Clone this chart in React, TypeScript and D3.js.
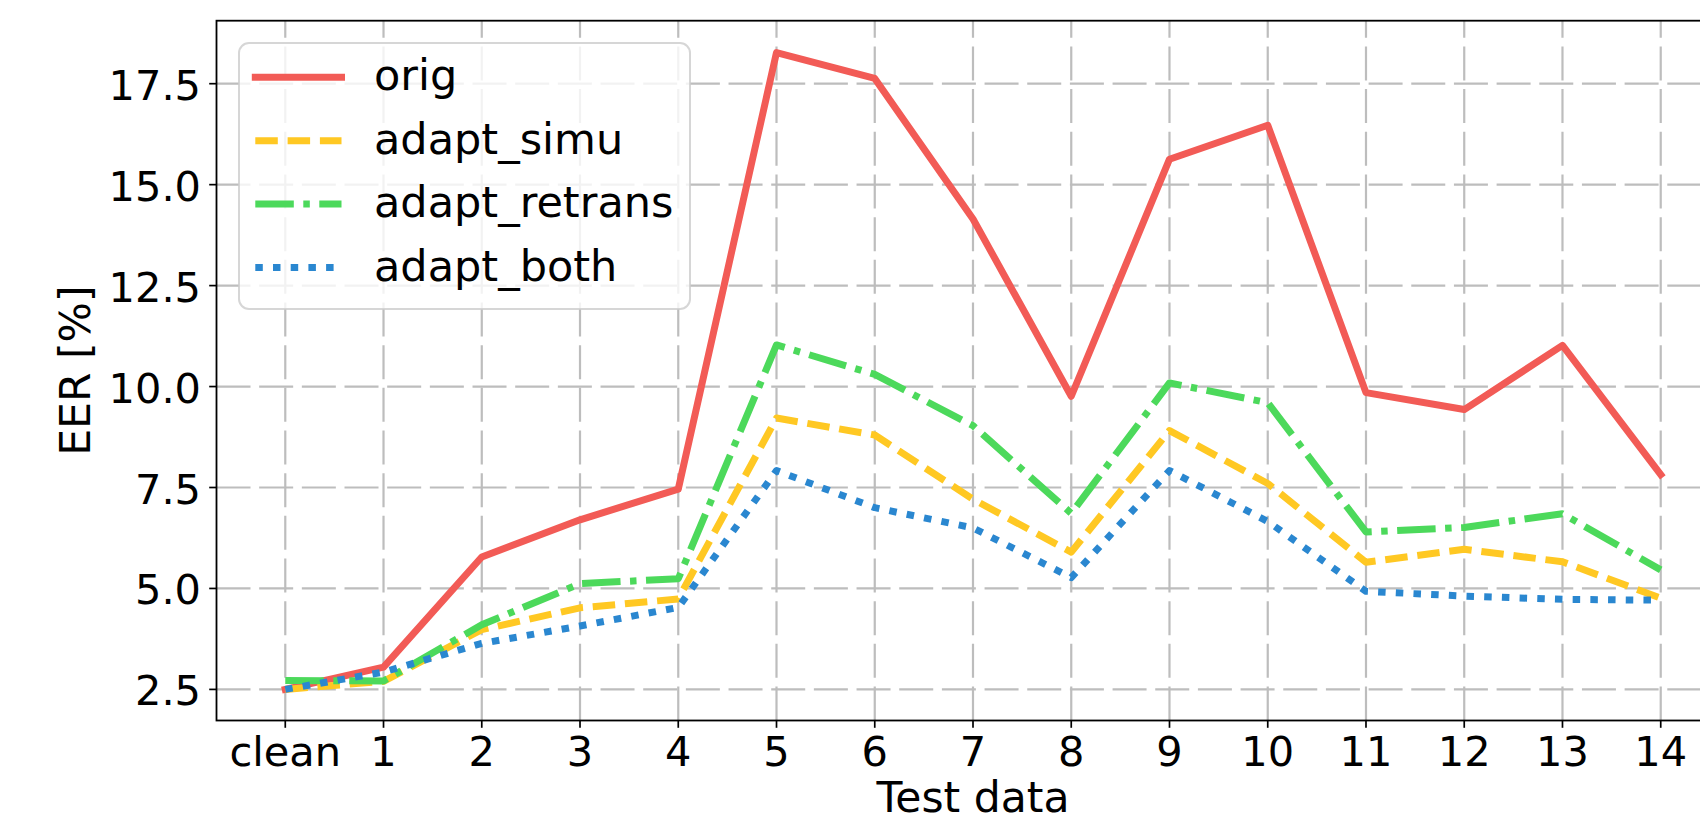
import React from "react";
import * as d3 from "d3";

// ---- data ----
const categories = ["clean", "1", "2", "3", "4", "5", "6", "7", "8", "9", "10", "11", "12", "13", "14"];
const orig = [2.5, 3.05, 5.78, 6.7, 7.46, 18.27, 17.63, 14.15, 9.76, 15.63, 16.47, 9.85, 9.43, 11.02, 7.82];
const adaptSimu = [2.5, 2.7, 3.98, 4.52, 4.74, 9.22, 8.8, 7.21, 5.9, 8.91, 7.6, 5.65, 5.97, 5.66, 4.76];
const adaptRetrans = [2.72, 2.71, 4.1, 5.12, 5.24, 11.03, 10.3, 9.03, 6.86, 10.09, 9.6, 6.4, 6.51, 6.85, 5.46];
const adaptBoth = [2.5, 2.93, 3.64, 4.07, 4.53, 7.92, 7.0, 6.5, 5.27, 7.92, 6.66, 4.93, 4.81, 4.73, 4.71];
const seriesNames = ["orig", "adapt_simu", "adapt_retrans", "adapt_both"];
const yTicks = [2.5, 5.0, 7.5, 10.0, 12.5, 15.0, 17.5];
const xLabel = "Test data";
const yLabel = "EER [%]";

// ---- styles ----
const W = 1700;
const H = 818;
const FONT = "'DejaVu Sans', 'Liberation Sans', sans-serif";
const FS = 41.5;
const FS_LABEL = 42.5;
const FS_LEGEND = 43;
const LW = 7;
const colors = ["#F25B56", "#FFC823", "#4CD95B", "#2A87D0"];
const dashes = [null, "22.5,9.8", "38.5,9.5,6.5,9.5", "7.5,10.2"];

export default function App() {
  const left = 216.5;
  const right = 1729.5;
  const top = 20.7;
  const bottom = 720.5;

  const x = d3.scaleLinear().domain([-0.7, 14.7]).range([left, right]);
  const y = d3.scaleLinear().domain([1.73, 19.06]).range([bottom, top]);

  const allSeries = [orig, adaptSimu, adaptRetrans, adaptBoth];
  const line = d3
    .line<number>()
    .x((_, i) => x(i))
    .y((d) => y(d));

  const gridColor = "#bdbdbd";
  const gridDash = "34,8.67";

  const legendX = 239;
  const legendY = 43;
  const legendW = 451;
  const legendH = 266;
  const rowY0 = 77.3;
  const rowStep = 63.4;

  return (
    <svg
      width={W}
      height={H}
      viewBox={`0 0 ${W} ${H}`}
      style={{ position: "absolute", left: 0, top: 0, background: "#fff" }}
      fontFamily={FONT}
    >
      <rect x={0} y={0} width={W} height={H} fill="#fff" />
      {/* grid */}
      <g>
        {yTicks.map((t) => (
          <line
            key={"gy" + t}
            x1={left}
            x2={right}
            y1={y(t)}
            y2={y(t)}
            stroke={gridColor}
            strokeWidth={2.2}
            strokeDasharray={gridDash}
          />
        ))}
        {categories.map((c, i) => (
          <line
            key={"gx" + c}
            x1={x(i)}
            x2={x(i)}
            y1={bottom}
            y2={top}
            stroke={gridColor}
            strokeWidth={2.2}
            strokeDasharray={gridDash}
          />
        ))}
      </g>
      {/* lines */}
      <g fill="none">
        {allSeries.map((vals, k) => (
          <path
            key={seriesNames[k]}
            d={line(vals) || ""}
            stroke={colors[k]}
            strokeWidth={LW}
            strokeLinejoin="round"
            strokeLinecap={dashes[k] ? "butt" : "square"}
            strokeDasharray={dashes[k] || undefined}
          />
        ))}
      </g>
      {/* spines */}
      <rect
        x={left}
        y={top}
        width={right - left}
        height={bottom - top}
        fill="none"
        stroke="#000"
        strokeWidth={1.8}
      />
      {/* y ticks */}
      <g>
        {yTicks.map((t) => (
          <g key={"yt" + t}>
            <line x1={left - 7.3} x2={left} y1={y(t)} y2={y(t)} stroke="#000" strokeWidth={1.7} />
            <text x={201} y={y(t) + 16} textAnchor="end" fontSize={FS} fill="#000">
              {t.toFixed(1)}
            </text>
          </g>
        ))}
      </g>
      {/* x ticks */}
      <g>
        {categories.map((c, i) => (
          <g key={"xt" + c}>
            <line x1={x(i)} x2={x(i)} y1={bottom} y2={bottom + 7.3} stroke="#000" strokeWidth={1.7} />
            <text x={x(i)} y={766} textAnchor="middle" fontSize={FS} fill="#000">
              {c}
            </text>
          </g>
        ))}
      </g>
      {/* axis labels */}
      <text x={(left + right) / 2} y={812} textAnchor="middle" fontSize={FS_LABEL} fill="#000">
        {xLabel}
      </text>
      <text
        transform={`translate(90, ${(top + bottom) / 2}) rotate(-90)`}
        textAnchor="middle"
        fontSize={FS_LABEL}
        fill="#000"
      >
        {yLabel}
      </text>
      {/* legend */}
      <g>
        <rect
          x={legendX}
          y={legendY}
          width={legendW}
          height={legendH}
          rx={10}
          ry={10}
          fill="#fff"
          fillOpacity={0.8}
          stroke="#cccccc"
          strokeOpacity={0.8}
          strokeWidth={2}
        />
        {seriesNames.map((name, k) => {
          const ry = rowY0 + k * rowStep;
          return (
            <g key={"lg" + name}>
              <line
                x1={255.3}
                x2={341.5}
                y1={ry}
                y2={ry}
                stroke={colors[k]}
                strokeWidth={LW}
                strokeLinecap={dashes[k] ? "butt" : "square"}
                strokeDasharray={dashes[k] || undefined}
              />
              <text x={374} y={ry + 13} fontSize={FS_LEGEND} fill="#000">
                {name}
              </text>
            </g>
          );
        })}
      </g>
    </svg>
  );
}
